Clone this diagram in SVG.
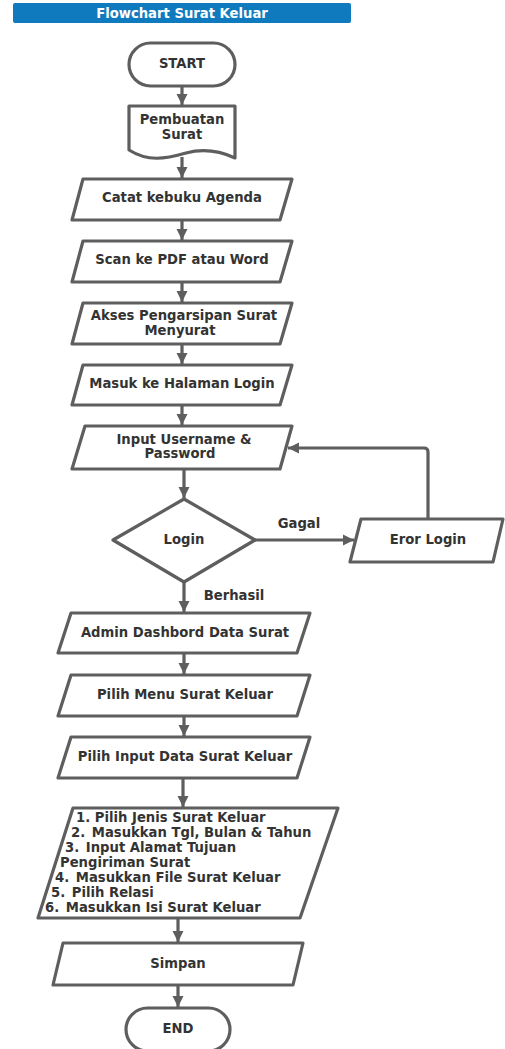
<svg xmlns="http://www.w3.org/2000/svg" width="505" height="1049" viewBox="0 0 505 1049">
<defs>
<marker id="ah" markerUnits="userSpaceOnUse" markerWidth="12" markerHeight="12" viewBox="0 0 12 12" refX="11" refY="6" orient="auto">
<path d="M0,0.5 L11,6 L0,11.5 Z" fill="#5e5e5e"/>
</marker>
</defs>
<style>
.s{fill:#fff;stroke:#5e5e5e;stroke-width:3.2;stroke-linejoin:round}
.c{fill:none;stroke:#5e5e5e;stroke-width:3.2}
.t{font-family:"DejaVu Sans",sans-serif;font-weight:bold;font-size:13.2px;fill:#333;text-anchor:middle;dominant-baseline:central}
.l{font-family:"DejaVu Sans",sans-serif;font-weight:bold;font-size:13.2px;fill:#333;dominant-baseline:central}
</style>
<rect width="505" height="1049" fill="#fff"/>
<g id="title">
<rect x="13" y="3" width="338" height="20" rx="2" fill="#0f7bbe"/>
<text x="182" y="13" class="t" style="fill:#fff">Flowchart Surat Keluar</text>
</g>
<g id="connectors">
<path class="c" marker-end="url(#ah)" d="M182,86 V105"/>
<path class="c" marker-end="url(#ah)" d="M182,157 V178"/>
<path class="c" marker-end="url(#ah)" d="M182,220 V240"/>
<path class="c" marker-end="url(#ah)" d="M182,282 V302"/>
<path class="c" marker-end="url(#ah)" d="M182,344 V364"/>
<path class="c" marker-end="url(#ah)" d="M182,405 V425"/>
<path class="c" marker-end="url(#ah)" d="M184,469 V498"/>
<path class="c" marker-end="url(#ah)" d="M255,540 H354"/>
<path class="c" marker-end="url(#ah)" d="M428,519 V452 Q428,448 424,448 H288"/>
<path class="c" marker-end="url(#ah)" d="M184,582 V612"/>
<path class="c" marker-end="url(#ah)" d="M184,653 V674"/>
<path class="c" marker-end="url(#ah)" d="M184,716 V736"/>
<path class="c" marker-end="url(#ah)" d="M183,778 V807"/>
<path class="c" marker-end="url(#ah)" d="M178,918 V942"/>
<path class="c" marker-end="url(#ah)" d="M178,985 V1007"/>
<text x="299" y="523" class="t">Gagal</text>
<text x="234" y="595" class="t">Berhasil</text>
</g>
<g id="start">
<rect class="s" x="129" y="43" width="106" height="43" rx="21.5"/>
<text x="182" y="63" class="t">START</text>
</g>
<g id="pembuatan">
<path class="s" d="M129,106 H235 V158 C222,152 205,148 186,153 C165,159 148,162 129,150 Z"/>
<text x="182" y="119" class="t">Pembuatan</text>
<text x="182" y="134" class="t">Surat</text>
</g>
<g id="catat">
<path class="s" d="M83,179 H292 L280,220 H72 Z"/>
<text x="182" y="197" class="t">Catat kebuku Agenda</text>
</g>
<g id="scan">
<path class="s" d="M83,241 H292 L280,282 H72 Z"/>
<text x="182" y="259" class="t">Scan ke PDF atau Word</text>
</g>
<g id="akses">
<path class="s" d="M83,303 H292 L280,344 H72 Z"/>
<text x="184" y="315" class="t">Akses Pengarsipan Surat</text>
<text x="180" y="330" class="t">Menyurat</text>
</g>
<g id="masuk">
<path class="s" d="M83,365 H292 L280,405 H72 Z"/>
<text x="182" y="383" class="t">Masuk ke Halaman Login</text>
</g>
<g id="input">
<path class="s" d="M85,426 H292 L280,469 H72 Z"/>
<text x="184" y="439" class="t">Input Username &amp;</text>
<text x="180" y="453" class="t">Password</text>
</g>
<g id="login">
<path class="s" d="M184,499 L255,540 L184,582 L113,540 Z"/>
<text x="184" y="539" class="t">Login</text>
</g>
<g id="eror">
<path class="s" d="M361,519 H503 L493,562 H350 Z"/>
<text x="428" y="539" class="t">Eror Login</text>
</g>
<g id="admin">
<path class="s" d="M71,613 H310 L297,653 H58 Z"/>
<text x="185" y="632" class="t">Admin Dashbord Data Surat</text>
</g>
<g id="menu">
<path class="s" d="M71,675 H310 L297,716 H58 Z"/>
<text x="185" y="694" class="t">Pilih Menu Surat Keluar</text>
</g>
<g id="inputdata">
<path class="s" d="M71,737 H310 L297,778 H58 Z"/>
<text x="185" y="756" class="t">Pilih Input Data Surat Keluar</text>
</g>
<g id="langkah">
<path class="s" d="M73,808 H338 L300,918 H38 Z"/>
<text x="76" y="817" class="l">1. Pilih Jenis Surat Keluar</text>
<text x="71" y="832" class="l">2. <tspan dx="2">Masukkan Tgl, Bulan &amp; Tahun</tspan></text>
<text x="65" y="847" class="l">3. <tspan dx="2">Input Alamat Tujuan</tspan></text>
<text x="60" y="862" class="l">Pengiriman Surat</text>
<text x="55" y="877" class="l">4. <tspan dx="2">Masukkan File Surat Keluar</tspan></text>
<text x="51" y="892" class="l">5. <tspan dx="2">Pilih Relasi</tspan></text>
<text x="45" y="907" class="l">6. <tspan dx="2">Masukkan Isi Surat Keluar</tspan></text>
</g>
<g id="simpan">
<path class="s" d="M63,943 H303 L293,985 H53 Z"/>
<text x="178" y="963" class="t">Simpan</text>
</g>
<g id="end">
<rect class="s" x="126" y="1008" width="104" height="43" rx="21.5"/>
<text x="178" y="1028" class="t">END</text>
</g>
</svg>
